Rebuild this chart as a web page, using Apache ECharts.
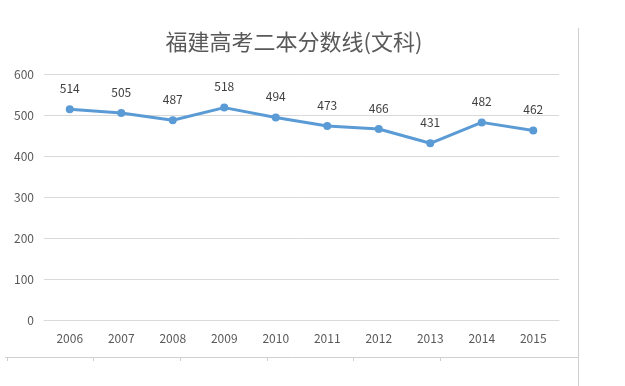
<!DOCTYPE html>
<html><head><meta charset="utf-8">
<script src="https://cdn.jsdelivr.net/npm/echarts@6/dist/echarts.min.js"></script>
<style>html,body{margin:0;padding:0;background:#fff}#c{width:625px;height:386px}</style>
</head><body><div id="c"></div>
<script>
const title = '福建高考二本分数线(文科)';
const years = ['2006','2007','2008','2009','2010','2011','2012','2013','2014','2015'];
const scores = [514, 505, 487, 518, 494, 473, 466, 431, 482, 462];
const yTicks = {min: 0, max: 600, interval: 100};

const chart = echarts.init(document.getElementById('c'), null, {renderer: 'canvas'});
const font = '"Noto Sans CJK SC", "Liberation Sans", sans-serif';
const frameTicks = [7, 93, 180, 267, 353, 440].map(x => ({
  type: 'line', shape: {x1: x + 0.5, y1: 357, x2: x + 0.5, y2: 361},
  style: {stroke: '#d0d0d0', lineWidth: 1}
}));
chart.setOption({
  backgroundColor: '#fff',
  animation: false,
  title: {
    text: title, left: 289, top: 26, textAlign: 'center',
    textStyle: {fontFamily: font, fontSize: 22, fontWeight: 'normal', color: '#595959'}
  },
  grid: {left: 44, right: 66, top: 74, bottom: 66},
  xAxis: {
    type: 'category', data: years, boundaryGap: true,
    axisLine: {show: true, lineStyle: {color: '#d9d9d9', width: 1}},
    axisTick: {show: false},
    axisLabel: {color: '#595959', fontSize: 12, fontFamily: font, margin: 12}
  },
  yAxis: {
    type: 'value', min: yTicks.min, max: yTicks.max, interval: yTicks.interval,
    axisLine: {show: false}, axisTick: {show: false},
    splitLine: {lineStyle: {color: '#d9d9d9', width: 1}},
    axisLabel: {color: '#595959', fontSize: 12, fontFamily: font, margin: 10}
  },
  series: [{
    type: 'line', data: scores,
    symbol: 'circle', symbolSize: 8,
    lineStyle: {color: '#5B9BD5', width: 3},
    itemStyle: {color: '#5B9BD5'},
    label: {show: true, position: 'top', distance: 11, color: '#404040', fontSize: 12, fontFamily: font}
  }],
  graphic: [
    {type: 'line', shape: {x1: 578.5, y1: 28, x2: 578.5, y2: 386}, style: {stroke: '#d0d0d0', lineWidth: 1}},
    {type: 'line', shape: {x1: 5, y1: 357.5, x2: 578, y2: 357.5}, style: {stroke: '#d0d0d0', lineWidth: 1}}
  ].concat(frameTicks)
});
</script></body></html>
